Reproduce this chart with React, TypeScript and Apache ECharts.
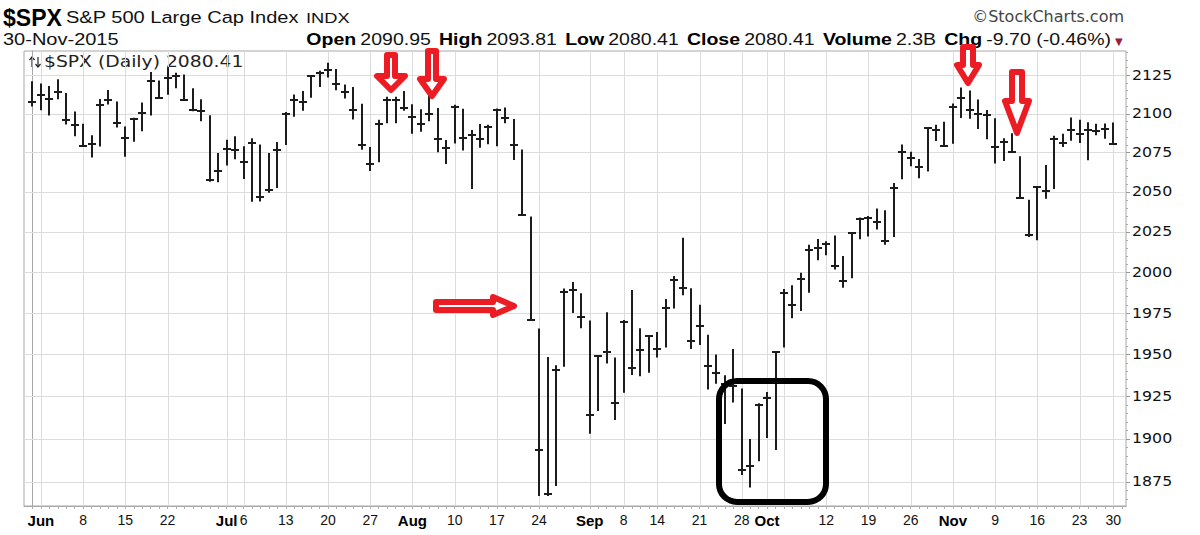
import React, { useEffect, useRef } from "react";
import * as echarts from "echarts";

// Trading days shown (May 29 – Nov 30, 2015)
const dates = [
  "05-29",
  "06-01","06-02","06-03","06-04","06-05","06-08","06-09","06-10","06-11","06-12","06-15","06-16","06-17","06-18","06-19","06-22","06-23","06-24","06-25","06-26","06-29","06-30",
  "07-01","07-02","07-06","07-07","07-08","07-09","07-10","07-13","07-14","07-15","07-16","07-17","07-20","07-21","07-22","07-23","07-24","07-27","07-28","07-29","07-30","07-31",
  "08-03","08-04","08-05","08-06","08-07","08-10","08-11","08-12","08-13","08-14","08-17","08-18","08-19","08-20","08-21","08-24","08-25","08-26","08-27","08-28","08-31",
  "09-01","09-02","09-03","09-04","09-08","09-09","09-10","09-11","09-14","09-15","09-16","09-17","09-18","09-21","09-22","09-23","09-24","09-25","09-28","09-29","09-30",
  "10-01","10-02","10-05","10-06","10-07","10-08","10-09","10-12","10-13","10-14","10-15","10-16","10-19","10-20","10-21","10-22","10-23","10-26","10-27","10-28","10-29","10-30",
  "11-02","11-03","11-04","11-05","11-06","11-09","11-10","11-11","11-12","11-13","11-16","11-17","11-18","11-19","11-20","11-23","11-24","11-25","11-27","11-30",
];

const highs = [
  2120.7, 2119.2, 2117.6, 2121.9, 2112.9, 2101.0, 2093.0, 2085.7, 2109.0, 2115.0,
  2107.4, 2091.3, 2097.0, 2106.8, 2126.7, 2121.2, 2130.0, 2126.2, 2125.1, 2116.0,
  2108.9, 2098.6, 2074.3, 2082.8, 2085.1, 2078.6, 2083.7, 2079.8, 2074.3, 2081.3,
  2100.7, 2112.0, 2114.2, 2124.4, 2127.5, 2132.8, 2128.7, 2118.5, 2116.9, 2106.0,
  2078.2, 2095.6, 2110.6, 2110.5, 2114.2, 2105.7, 2102.5, 2112.7, 2103.3, 2082.6,
  2105.4, 2102.7, 2089.1, 2092.9, 2092.5, 2102.9, 2103.5, 2096.2, 2076.6, 2034.1,
  1965.2, 1948.0, 1943.1, 1989.6, 1993.5, 1986.7, 1970.1, 1948.9, 1975.0, 1947.8,
  1970.4, 1988.6, 1965.3, 1961.1, 1963.1, 1983.2, 1997.3, 2020.9, 1989.7, 1979.6,
  1961.4, 1949.5, 1937.2, 1952.9, 1929.2, 1899.5, 1920.5, 1927.2, 1951.4, 1989.2,
  1991.6, 1999.3, 2016.5, 2020.1, 2018.7, 2022.3, 2009.6, 2024.2, 2033.5, 2034.5,
  2039.1, 2038.0, 2055.2, 2079.7, 2075.1, 2070.4, 2090.4, 2092.5, 2094.3, 2106.2,
  2116.5, 2114.6, 2108.8, 2101.9, 2096.6, 2083.7, 2086.9, 2072.3, 2044.6, 2053.2,
  2066.7, 2085.3, 2086.7, 2097.1, 2095.6, 2094.1, 2093.0, 2093.3, 2093.8,
];

const lows = [
  2104.9, 2102.5, 2099.1, 2109.6, 2093.2, 2085.7, 2079.1, 2072.1, 2079.1, 2106.2,
  2091.3, 2072.5, 2082.1, 2088.9, 2099.1, 2109.8, 2112.5, 2116.7, 2108.6, 2101.8,
  2095.4, 2056.6, 2056.3, 2067.0, 2071.0, 2058.4, 2044.0, 2044.2, 2049.7, 2052.7,
  2080.0, 2098.2, 2102.1, 2110.6, 2117.5, 2123.7, 2115.4, 2110.0, 2096.4, 2077.1,
  2063.5, 2069.1, 2094.1, 2094.1, 2102.1, 2087.3, 2088.6, 2095.3, 2075.5, 2067.9,
  2081.0, 2076.5, 2052.1, 2078.3, 2080.6, 2079.3, 2094.1, 2070.5, 2035.7, 1970.9,
  1867.0, 1867.0, 1872.8, 1942.8, 1975.2, 1966.0, 1903.1, 1916.5, 1944.7, 1911.2,
  1927.3, 1937.9, 1937.2, 1939.2, 1948.3, 1954.3, 1977.9, 1986.0, 1953.5, 1955.8,
  1929.2, 1932.6, 1908.9, 1921.5, 1879.2, 1871.9, 1887.1, 1900.7, 1893.7, 1954.3,
  1972.0, 1976.4, 1987.5, 2007.6, 2010.6, 2001.8, 1990.7, 1996.5, 2020.5, 2022.3,
  2026.6, 2017.2, 2021.9, 2058.2, 2066.5, 2058.8, 2063.1, 2082.6, 2079.3, 2080.8,
  2097.5, 2097.0, 2090.4, 2083.7, 2068.2, 2069.9, 2074.9, 2045.7, 2022.0, 2019.9,
  2045.9, 2052.0, 2078.8, 2082.8, 2081.4, 2070.3, 2086.3, 2084.1, 2080.4,
];

const closes = [
  2107.4, 2111.7, 2109.6, 2114.1, 2095.8, 2092.8, 2079.3, 2080.2, 2105.2, 2108.9,
  2094.1, 2084.4, 2096.3, 2100.4, 2121.2, 2110.0, 2122.9, 2124.2, 2108.6, 2102.3,
  2101.5, 2057.6, 2063.1, 2077.4, 2076.8, 2068.8, 2081.3, 2046.7, 2051.3, 2076.6,
  2099.6, 2109.0, 2107.4, 2124.3, 2126.6, 2128.3, 2119.2, 2114.2, 2102.2, 2079.7,
  2067.6, 2093.3, 2108.6, 2108.6, 2103.8, 2098.0, 2093.3, 2099.8, 2083.6, 2077.6,
  2104.2, 2084.1, 2086.1, 2083.4, 2091.5, 2102.4, 2096.9, 2079.6, 2035.7, 1970.9,
  1893.2, 1867.6, 1940.5, 1987.7, 1988.9, 1972.2, 1913.9, 1948.9, 1951.1, 1921.2,
  1969.4, 1942.0, 1952.3, 1961.1, 1953.0, 1978.1, 1995.3, 1990.2, 1958.0, 1967.0,
  1942.7, 1938.8, 1932.2, 1931.3, 1881.8, 1884.1, 1920.0, 1923.8, 1951.4, 1987.1,
  1979.9, 1995.8, 2013.4, 2014.9, 2017.5, 2003.7, 1994.2, 2023.9, 2033.1, 2033.7,
  2030.8, 2018.9, 2052.5, 2075.2, 2071.2, 2065.9, 2090.4, 2089.4, 2079.4, 2104.1,
  2109.8, 2102.3, 2099.9, 2099.2, 2078.6, 2081.7, 2075.0, 2046.0, 2023.0, 2053.2,
  2050.4, 2083.6, 2081.2, 2089.2, 2086.6, 2089.1, 2088.9, 2090.1, 2080.4,
];

// X-axis tick labels (index into dates) and extra gridline
const xLabelIdx = [1, 6, 11, 16, 23, 25, 30, 35, 40, 45, 50, 55, 60, 66, 70, 74, 79, 84, 87, 94, 99, 104, 109, 114, 119, 124, 128];
const xLabelText = ["Jun", "8", "15", "22", "Jul", "6", "13", "20", "27", "Aug", "10", "17", "24", "Sep", "8", "14", "21", "28", "Oct", "12", "19", "26", "Nov", "9", "16", "23", "30"];
const monthLabels = ["Jun", "Jul", "Aug", "Sep", "Oct", "Nov"];
const xGridIdx = [1, 6, 11, 16, 23, 25, 30, 35, 40, 45, 50, 55, 60, 66, 70, 74, 79, 84, 87, 89, 94, 99, 104, 109, 114, 119, 124, 128];

// Y-axis tick labels
const yTicks = [1875, 1900, 1925, 1950, 1975, 2000, 2025, 2050, 2075, 2100, 2125];

const SANS = '"Liberation Sans", Arial, sans-serif';
const VERD = '"DejaVu Sans", Verdana, sans-serif';
const RED = "#ec1c24";

function downArrow(cx: number, y0: number, sw: number, ys: number, hw: number, tip: number) {
  return [
    [cx - sw, y0], [cx + sw, y0], [cx + sw, ys], [cx + hw, ys], [cx, tip], [cx - hw, ys], [cx - sw, ys],
  ];
}
function rightArrow(cy: number, x0: number, sh: number, xs: number, hh: number, tip: number) {
  return [
    [x0, cy - sh], [xs, cy - sh], [xs, cy - hh], [tip, cy], [xs, cy + hh], [xs, cy + sh], [x0, cy + sh],
  ];
}

export default function App() {
  const ref = useRef<HTMLDivElement>(null);

  useEffect(() => {
    if (!ref.current) return;
    const chart = echarts.init(ref.current, null, { renderer: "svg" });

    const labelMap: Record<number, string> = {};
    xLabelIdx.forEach((idx, k) => (labelMap[idx] = xLabelText[k]));

    const ohlcData = dates.map((d, i) => [i, highs[i], lows[i], closes[i]]);

    const arrowStyle = { fill: "#ffffff", stroke: RED, lineWidth: 6, lineJoin: "round" as const };
    const iconStyle = { stroke: "#222", lineWidth: 1.2, fill: "none" };

    const option: any = {
      animation: false,
      backgroundColor: "#ffffff",
      grid: {
        left: 24,
        top: 51,
        width: 1102,
        height: 455,
        show: true,
        borderColor: "#a8a8a8",
        borderWidth: 1,
      },
      xAxis: {
        type: "value",
        min: -1,
        max: 129.5,
        interval: 1,
        axisLine: { show: true, lineStyle: { color: "#a8a8a8" } },
        axisTick: { show: true, length: 3, lineStyle: { color: "#b0b0b0" } },
        splitLine: { show: false },
        axisLabel: {
          margin: 7,
          showMinLabel: false,
          showMaxLabel: false,
          formatter: (v: number) => {
            const t = labelMap[Math.round(v)];
            if (t === undefined || Math.abs(v - Math.round(v)) > 1e-6) return "";
            return monthLabels.includes(t) ? `{b|${t}}` : `{n|${t}}`;
          },
          rich: {
            b: { fontFamily: SANS, fontWeight: "bold", fontSize: 15, color: "#000" },
            n: { fontFamily: SANS, fontSize: 14, color: "#111" },
          },
        },
      },
      yAxis: {
        type: "log",
        position: "right",
        min: 1861,
        max: 2140.8,
        axisLine: { show: true, lineStyle: { color: "#a8a8a8" } },
        axisTick: { show: false },
        axisLabel: { show: false },
        splitLine: { show: false },
      },
      series: [
        {
          type: "custom",
          name: "xgrid",
          silent: true,
          z: 1,
          data: xGridIdx.map((i) => [i, 2000]),
          renderItem: (params: any, api: any) => {
            const cs = params.coordSys;
            const p = api.coord([api.value(0), api.value(1)]);
            const x = Math.round(p[0]) + 0.5;
            return {
              type: "line",
              shape: { x1: x, y1: cs.y, x2: x, y2: cs.y + cs.height },
              style: { stroke: "#dcdcdc", lineWidth: 1 },
            };
          },
        },
        {
          type: "custom",
          name: "ygrid",
          silent: true,
          z: 1,
          data: yTicks.map((v) => [0, v]),
          renderItem: (params: any, api: any) => {
            const cs = params.coordSys;
            const v = api.value(1);
            const p = api.coord([0, v]);
            const right = cs.x + cs.width;
            const y = Math.round(p[1]) + 0.5;
            const children: any[] = [
              { type: "line", shape: { x1: cs.x, y1: y, x2: right, y2: y }, style: { stroke: "#dcdcdc", lineWidth: 1 } },
              { type: "line", shape: { x1: right, y1: y, x2: right + 4, y2: y }, style: { stroke: "#999", lineWidth: 1 } },
              {
                type: "text",
                x: right + 6,
                y: p[1],
                scaleX: 1.13,
                style: { text: String(v), fontFamily: VERD, fontSize: 14, fill: "#111", verticalAlign: "middle", align: "left" },
              },
            ];
            const minors: number[] = [v + 5, v + 10, v + 15, v + 20];
            if (v === yTicks[0]) minors.push(v - 5, v - 10);
            const maxV = 2140;
            return {
              type: "group",
              children: children.concat(
                minors
                  .filter((m) => m <= maxV && m >= 1862)
                  .map((m) => {
                    const q = api.coord([0, m]);
                    const yy = Math.round(q[1]) + 0.5;
                    return { type: "line", shape: { x1: right, y1: yy, x2: right + 2, y2: yy }, style: { stroke: "#aaa", lineWidth: 1 } };
                  })
              ),
            };
          },
        },
        {
          type: "custom",
          name: "$SPX",
          z: 3,
          encode: { x: 0, y: [1, 2, 3] },
          data: ohlcData,
          renderItem: (params: any, api: any) => {
            const x = api.value(0);
            const pH = api.coord([x, api.value(1)]);
            const pL = api.coord([x, api.value(2)]);
            const pC = api.coord([x, api.value(3)]);
            const cx = Math.round(pH[0]);
            const cy = Math.round(pC[1]);
            return {
              type: "group",
              children: [
                { type: "line", shape: { x1: cx, y1: pH[1] - 0.5, x2: cx, y2: pL[1] + 0.5 }, style: { stroke: "#1c1c1c", lineWidth: 2 } },
                { type: "line", shape: { x1: cx - 4, y1: cy, x2: cx + 4, y2: cy }, style: { stroke: "#1c1c1c", lineWidth: 2 } },
              ],
            };
          },
        },
      ],
      graphic: [
        {
          type: "text",
          x: 3,
          y: 6,
          style: { text: "$SPX", fontFamily: SANS, fontWeight: "bold", fontSize: 23, fill: "#000" },
        },
        {
          type: "text",
          x: 66,
          y: 9,
          scaleX: 1.18,
          style: { text: "S&P 500 Large Cap Index", fontFamily: SANS, fontSize: 17, fill: "#111" },
        },
        {
          type: "text",
          x: 306,
          y: 11,
          scaleX: 1.22,
          style: { text: "INDX", fontFamily: SANS, fontSize: 15, fill: "#111" },
        },
        {
          type: "text",
          x: 3,
          y: 32,
          scaleX: 1.25,
          style: { text: "30-Nov-2015", fontFamily: SANS, fontSize: 16, fill: "#111" },
        },
        {
          type: "text",
          x: 1124,
          y: 8,
          style: { text: "©StockCharts.com", fontFamily: VERD, fontSize: 16, fill: "#444", align: "right" },
        },
        {
          type: "text",
          x: 1111,
          y: 32,
          scaleX: 1.22,
          style: {
            text: "{b|Open} {n|2090.95}  {b|High} {n|2093.81}  {b|Low} {n|2080.41}  {b|Close} {n|2080.41}  {b|Volume} {n|2.3B}  {b|Chg} {n|-9.70 (-0.46%)}",
            align: "right",
            rich: {
              b: { fontFamily: SANS, fontWeight: "bold", fontSize: 16, fill: "#000" },
              n: { fontFamily: SANS, fontSize: 16, fill: "#111" },
            },
          },
        },
        {
          type: "text",
          x: 1115,
          y: 36,
          style: { text: "▼", fontFamily: VERD, fontSize: 10, fill: "#9b1b45" },
        },
        // small up/down icon of the legend
        { type: "polyline", shape: { points: [[32, 67], [32, 57]] }, style: iconStyle },
        { type: "polyline", shape: { points: [[29.5, 60], [32, 57], [34.5, 60]] }, style: iconStyle },
        { type: "polyline", shape: { points: [[38, 57], [38, 67]] }, style: iconStyle },
        { type: "polyline", shape: { points: [[35.5, 64], [38, 67], [40.5, 64]] }, style: iconStyle },
        {
          type: "text",
          x: 44,
          y: 54,
          scaleX: 1.25,
          style: { text: "$SPX (Daily) 2080.41", fontFamily: VERD, fontSize: 15, fill: "#222" },
        },
        // Red annotation arrows
        { type: "polygon", z: 100, shape: { points: downArrow(391, 55, 4, 76, 14, 90) }, style: arrowStyle },
        { type: "polygon", z: 100, shape: { points: downArrow(432, 51, 4, 79, 12, 96) }, style: arrowStyle },
        { type: "polygon", z: 100, shape: { points: downArrow(968, 47, 5, 65, 11, 83) }, style: arrowStyle },
        { type: "polygon", z: 100, shape: { points: downArrow(1017, 72, 5, 101, 12, 133) }, style: arrowStyle },
        { type: "polygon", z: 100, shape: { points: rightArrow(306, 436, 4, 493, 9, 514) }, style: arrowStyle },
        // Black rounded box
        {
          type: "rect",
          z: 100,
          shape: { x: 719, y: 381, width: 107, height: 121, r: 18 },
          style: { fill: "none", stroke: "#000", lineWidth: 6 },
        },
      ],
    };

    chart.setOption(option);
    return () => chart.dispose();
  }, []);

  return (
    <div
      ref={ref}
      style={{ position: "fixed", left: 0, top: 0, width: 1200, height: 535, background: "#fff" }}
    />
  );
}
